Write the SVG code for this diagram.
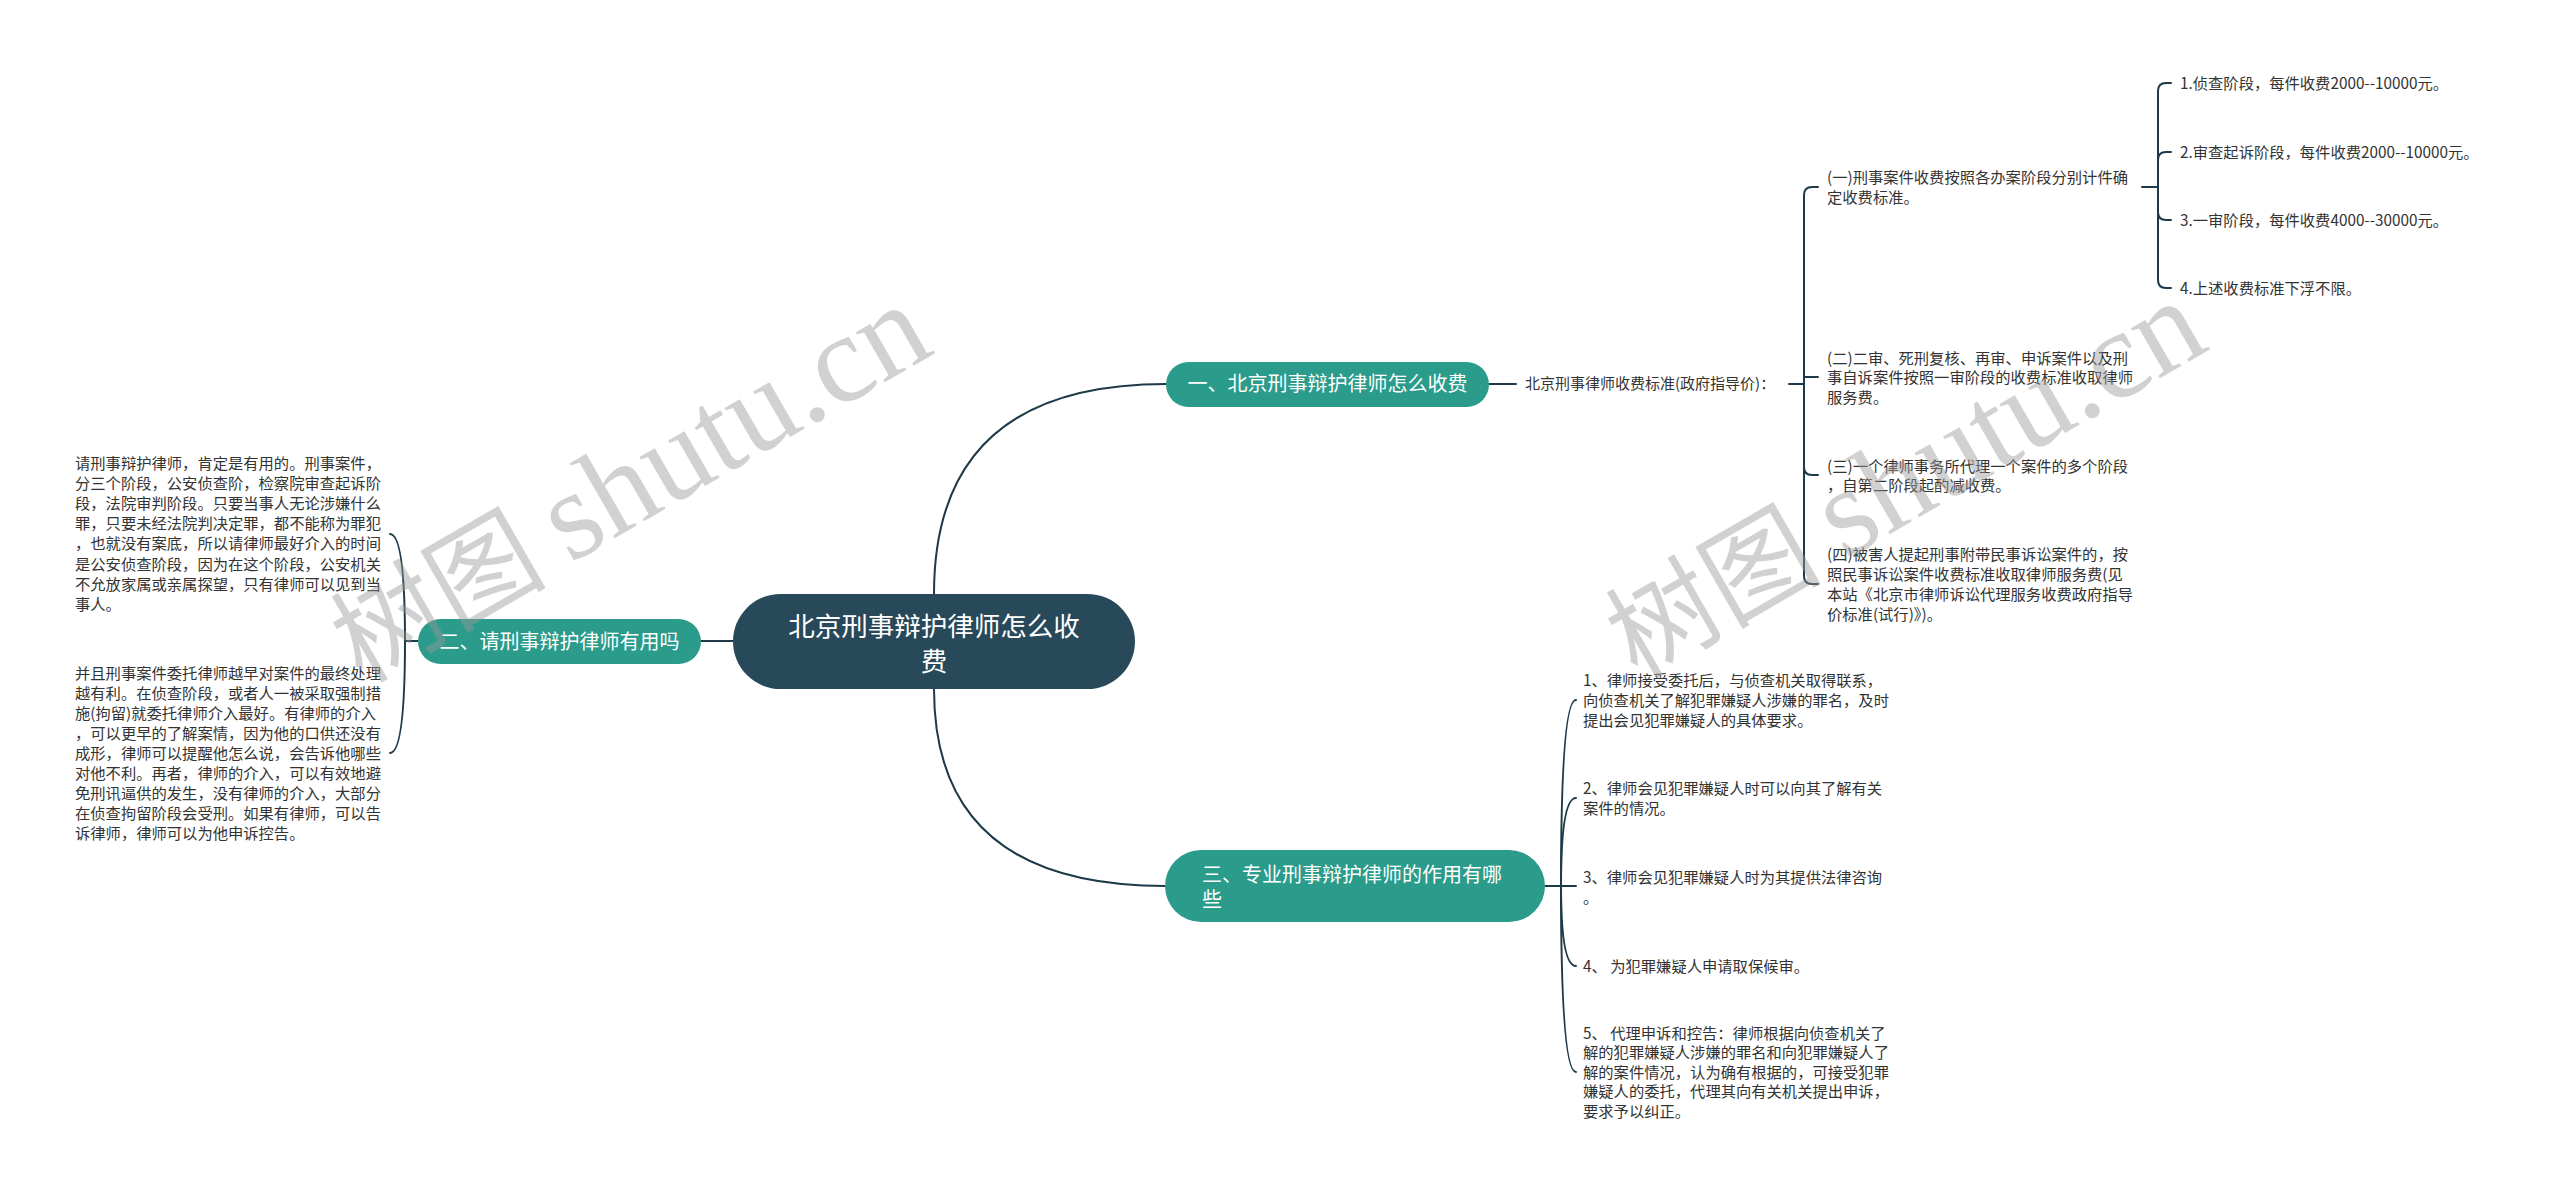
<svg xmlns="http://www.w3.org/2000/svg" width="2560" height="1196" viewBox="0 0 2560 1196">
<style>
.conn{fill:none;stroke:#1e3a48;stroke-width:2;stroke-linecap:round}
.t{font-family:"Noto Sans CJK SC","Noto Sans",sans-serif;font-size:15.3px;fill:#333}
.tt{font-family:"Noto Sans CJK SC","Noto Sans",sans-serif;font-size:20px;fill:#fff}
.rt{font-family:"Noto Sans CJK SC","Noto Sans",sans-serif;font-size:26.5px;fill:#fff}
.topic{fill:#2b9b8b}
.root{fill:#284959}
.wm{font-family:"Noto Sans CJK SC",sans-serif;font-size:108px;fill:#9a9a9a;fill-opacity:0.45}
.wm .en{font-family:"Liberation Serif",serif;font-size:126px}
</style>
<rect width="2560" height="1196" fill="#ffffff"/>
<g id="connectors">
<path class="conn" d="M934 594 Q934 384 1166 384"/>
<path class="conn" d="M934 689 Q934 886 1165 886"/>
<path class="conn" d="M733 641 H701"/>
<path class="conn" d="M1489 384 H1516"/>
<path class="conn" d="M1789 384 H1804"/>
<path class="conn" d="M1804 384 V195 Q1804 187 1812 187 H1818"/>
<path class="conn" d="M1804 384 V377 H1818"/>
<path class="conn" d="M1804 384 V467 Q1804 475 1812 475 H1818"/>
<path class="conn" d="M1804 384 V576 Q1804 584 1812 584 H1818"/>
<path class="conn" d="M2142 187 H2158"/>
<path class="conn" d="M2158 187 V91 Q2158 83 2166 83 H2171"/>
<path class="conn" d="M2158 187 V160 Q2158 152 2166 152 H2171"/>
<path class="conn" d="M2158 187 V212 Q2158 220 2166 220 H2171"/>
<path class="conn" d="M2158 187 V280 Q2158 288 2166 288 H2171"/>
<path class="conn" d="M1545 886 H1561"/>
<path class="conn" d="M1561 886 Q1561 700 1576 700"/>
<path class="conn" d="M1561 886 Q1561 798 1576 798"/>
<path class="conn" d="M1561 886 H1576"/>
<path class="conn" d="M1561 886 Q1561 966 1576 966"/>
<path class="conn" d="M1561 886 Q1561 1072 1576 1072"/>
<path class="conn" d="M418 641 H405"/>
<path class="conn" d="M405 641 Q405 534 390 534"/>
<path class="conn" d="M405 641 Q405 753 390 753"/>
</g>
<g id="root">
<rect class="root" x="733" y="594" width="402" height="95" rx="47.5"/>
<text class="rt" x="934" y="635.5" text-anchor="middle">北京刑事辩护律师怎么收</text>
<text class="rt" x="934" y="670.5" text-anchor="middle">费</text>
</g>
<g id="topic1">
<rect class="topic" x="1166" y="362" width="323" height="45" rx="22.5"/>
<text class="tt" x="1327.5" y="391" text-anchor="middle">一、北京刑事辩护律师怎么收费</text>
</g>
<g id="topic2">
<rect class="topic" x="418" y="619" width="283" height="45" rx="22.5"/>
<text class="tt" x="559.5" y="649" text-anchor="middle">二、请刑事辩护律师有用吗</text>
</g>
<g id="topic3">
<rect class="topic" x="1165" y="850" width="380" height="72" rx="36"/>
<text class="tt" x="1202" y="882">三、专业刑事辩护律师的作用有哪</text>
<text class="tt" x="1202" y="907">些</text>
</g>
<g id="label1">
<text class="t" x="1525" y="389" style="font-size:15px">北京刑事律师收费标准(政府指导价)：</text>
</g>
<g id="item1-1">
<text class="t" x="1827" y="182.5">(一)刑事案件收费按照各办案阶段分别计件确<tspan x="1827" y="202.5">定收费标准。</tspan></text>
</g>
<g id="item1-1-1"><text class="t" x="2180" y="88.5">1.侦查阶段，每件收费2000--10000元。</text></g>
<g id="item1-1-2"><text class="t" x="2180" y="157.5">2.审查起诉阶段，每件收费2000--10000元。</text></g>
<g id="item1-1-3"><text class="t" x="2180" y="225.5">3.一审阶段，每件收费4000--30000元。</text></g>
<g id="item1-1-4"><text class="t" x="2180" y="293.5">4.上述收费标准下浮不限。</text></g>
<g id="item1-2">
<text class="t" x="1827" y="363.5">(二)二审、死刑复核、再审、申诉案件以及刑<tspan x="1827" y="383">事自诉案件按照一审阶段的收费标准收取律师</tspan><tspan x="1827" y="402.5">服务费。</tspan></text>
</g>
<g id="item1-3">
<text class="t" x="1827" y="471.5">(三)一个律师事务所代理一个案件的多个阶段<tspan x="1827" y="490.5">，自第二阶段起酌减收费。</tspan></text>
</g>
<g id="item1-4">
<text class="t" x="1827" y="559.5">(四)被害人提起刑事附带民事诉讼案件的，按<tspan x="1827" y="579.5">照民事诉讼案件收费标准收取律师服务费(见</tspan><tspan x="1827" y="599.5">本站《北京市律师诉讼代理服务收费政府指导</tspan><tspan x="1827" y="619.5">价标准(试行)》)。</tspan></text>
</g>
<g id="item2-1">
<text class="t" x="75" y="468.5">请刑事辩护律师，肯定是有用的。刑事案件，<tspan x="75" y="488.7">分三个阶段，公安侦查阶，检察院审查起诉阶</tspan><tspan x="75" y="508.9">段，法院审判阶段。只要当事人无论涉嫌什么</tspan><tspan x="75" y="529.1">罪，只要未经法院判决定罪，都不能称为罪犯</tspan><tspan x="75" y="549.3">，也就没有案底，所以请律师最好介入的时间</tspan><tspan x="75" y="569.5">是公安侦查阶段，因为在这个阶段，公安机关</tspan><tspan x="75" y="589.7">不允放家属或亲属探望，只有律师可以见到当</tspan><tspan x="75" y="609.9">事人。</tspan></text>
</g>
<g id="item2-2">
<text class="t" x="75" y="678.5">并且刑事案件委托律师越早对案件的最终处理<tspan x="75" y="698.5">越有利。在侦查阶段，或者人一被采取强制措</tspan><tspan x="75" y="718.5">施(拘留)就委托律师介入最好。有律师的介入</tspan><tspan x="75" y="738.5">，可以更早的了解案情，因为他的口供还没有</tspan><tspan x="75" y="758.5">成形，律师可以提醒他怎么说，会告诉他哪些</tspan><tspan x="75" y="778.5">对他不利。再者，律师的介入，可以有效地避</tspan><tspan x="75" y="798.5">免刑讯逼供的发生，没有律师的介入，大部分</tspan><tspan x="75" y="818.5">在侦查拘留阶段会受刑。如果有律师，可以告</tspan><tspan x="75" y="838.5">诉律师，律师可以为他申诉控告。</tspan></text>
</g>
<g id="item3-1">
<text class="t" x="1583" y="685.5">1、律师接受委托后，与侦查机关取得联系，<tspan x="1583" y="705.5">向侦查机关了解犯罪嫌疑人涉嫌的罪名，及时</tspan><tspan x="1583" y="725.5">提出会见犯罪嫌疑人的具体要求。</tspan></text>
</g>
<g id="item3-2">
<text class="t" x="1583" y="793.5">2、律师会见犯罪嫌疑人时可以向其了解有关<tspan x="1583" y="813.5">案件的情况。</tspan></text>
</g>
<g id="item3-3">
<text class="t" x="1583" y="882.5">3、律师会见犯罪嫌疑人时为其提供法律咨询<tspan x="1583" y="902.5">。</tspan></text>
</g>
<g id="item3-4">
<text class="t" x="1583" y="971.5">4、 为犯罪嫌疑人申请取保候审。</text>
</g>
<g id="item3-5">
<text class="t" x="1583" y="1038.5">5、 代理申诉和控告：律师根据向侦查机关了<tspan x="1583" y="1058.1">解的犯罪嫌疑人涉嫌的罪名和向犯罪嫌疑人了</tspan><tspan x="1583" y="1077.7">解的案件情况，认为确有根据的，可接受犯罪</tspan><tspan x="1583" y="1097.3">嫌疑人的委托，代理其向有关机关提出申诉，</tspan><tspan x="1583" y="1116.9">要求予以纠正。</tspan></text>
</g>
<g id="watermark">
<text class="wm" transform="translate(362 684) rotate(-30)">树图 <tspan class="en">shutu.cn</tspan></text>
<text class="wm" transform="translate(1637 680) rotate(-30)">树图 <tspan class="en">shutu.cn</tspan></text>
</g>
</svg>
